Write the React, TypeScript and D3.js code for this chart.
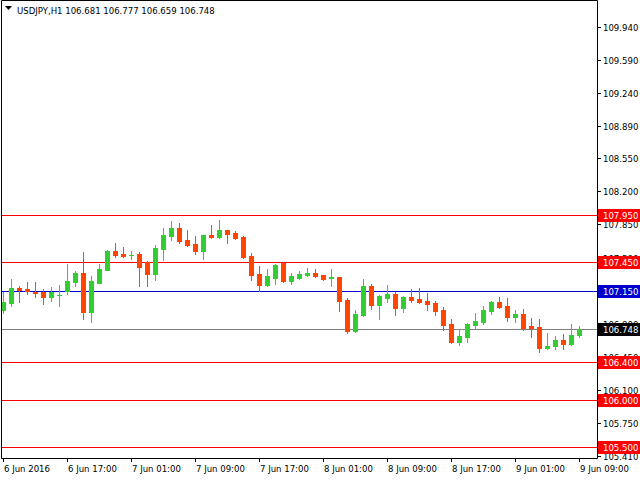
import React from 'react';
import * as d3 from 'd3';

// hourly USDJPY candles, 6 Jun 09:00 .. 9 Jun 09:00
const opens = [
  106.947, 107.024, 107.179, 107.168, 107.14, 107.14, 107.087, 107.1, 107.144, 107.246,
  107.338, 106.929, 107.235, 107.372, 107.57, 107.538, 107.528, 107.538, 107.454, 107.327,
  107.591, 107.728, 107.813, 107.686, 107.644, 107.57, 107.739, 107.718, 107.792, 107.76,
  107.718, 107.517, 107.327, 107.211, 107.285, 107.443, 107.253, 107.285, 107.317, 107.338,
  107.317, 107.285, 107.295, 107.052, 106.725, 106.894, 107.2, 106.999, 107.074, 107.116,
  106.968, 107.084, 107.063, 107.042, 107.021, 106.947, 106.799, 106.609, 106.662, 106.788,
  106.82, 106.936, 107.031, 106.989, 106.873, 106.905, 106.778, 106.767, 106.546, 106.567,
  106.63, 106.588, 106.681,
];
const highs = [
  107.137, 107.274, 107.2, 107.242, 107.242, 107.169, 107.19, 107.211, 107.433, 107.359,
  107.559, 107.306, 107.433, 107.581, 107.654, 107.612, 107.57, 107.559, 107.46, 107.633,
  107.813, 107.887, 107.866, 107.792, 107.728, 107.739, 107.844, 107.897, 107.792, 107.781,
  107.728, 107.549, 107.411, 107.38, 107.433, 107.454, 107.338, 107.359, 107.39, 107.38,
  107.32, 107.38, 107.295, 107.074, 106.947, 107.274, 107.221, 107.105, 107.211, 107.137,
  107.09, 107.169, 107.179, 107.126, 107.042, 106.978, 106.852, 106.746, 106.81, 106.915,
  106.989, 107.042, 107.084, 107.074, 106.947, 106.957, 106.862, 106.852, 106.704, 106.672,
  106.693, 106.799, 106.777,
];
const lows = [
  106.915, 106.992, 107.031, 107.116, 107.084, 107.013, 107.045, 106.992, 107.119, 107.2,
  106.855, 106.823, 107.23, 107.368, 107.507, 107.51, 107.486, 107.2, 107.2, 107.264,
  107.475, 107.686, 107.654, 107.623, 107.538, 107.486, 107.707, 107.707, 107.654, 107.697,
  107.496, 107.264, 107.147, 107.2, 107.221, 107.242, 107.221, 107.275, 107.31, 107.3,
  107.264, 107.2, 106.936, 106.704, 106.714, 106.88, 106.957, 106.852, 107.031, 106.894,
  106.926, 107.031, 107.021, 106.947, 106.894, 106.736, 106.598, 106.577, 106.609, 106.757,
  106.799, 106.905, 106.968, 106.83, 106.82, 106.736, 106.662, 106.503, 106.535, 106.535,
  106.535, 106.577, 106.659,
];
const closes = [
  107.031, 107.179, 107.158, 107.147, 107.129, 107.087, 107.14, 107.11, 107.253, 107.338,
  106.929, 107.253, 107.38, 107.57, 107.528, 107.52, 107.53, 107.401, 107.327, 107.602,
  107.739, 107.813, 107.675, 107.633, 107.57, 107.739, 107.718, 107.792, 107.749, 107.707,
  107.507, 107.316, 107.211, 107.306, 107.422, 107.253, 107.306, 107.327, 107.338, 107.306,
  107.274, 107.295, 107.042, 106.725, 106.905, 107.2, 106.999, 107.095, 107.116, 106.968,
  107.084, 107.052, 107.031, 107.01, 106.936, 106.788, 106.609, 106.672, 106.799, 106.83,
  106.947, 107.031, 106.978, 106.873, 106.905, 106.757, 106.757, 106.546, 106.567, 106.63,
  106.588, 106.683, 106.748,
];

const priceTicks = [
  '109.940', '109.590', '109.240', '108.890', '108.550', '108.200', '107.850',
  '107.500', '106.800', '106.450', '106.100', '105.750', '105.410',
];
const timeTickIdx = [0, 8, 16, 24, 32, 40, 48, 56, 64, 72];
const timeTickLabels = [
  '6 Jun 2016', '6 Jun 17:00', '7 Jun 01:00', '7 Jun 09:00', '7 Jun 17:00',
  '8 Jun 01:00', '8 Jun 09:00', '8 Jun 17:00', '9 Jun 01:00', '9 Jun 09:00',
];

// horizontal levels: value, colour of line, colour of tag
const levelValues = [107.95, 107.45, 107.15, 106.748, 106.4, 106.0, 105.5];
const levelLine = ['#ff0000', '#ff0000', '#0000cd', '#808080', '#ff0000', '#ff0000', '#ff0000'];
const levelTag = ['#ff0000', '#ff0000', '#0000cd', '#000000', '#ff0000', '#ff0000', '#ff0000'];

const W = 640;
const H = 480;
const plotRight = 597;
const plotBottom = 458;
const FONT = "'DejaVu Sans Condensed', 'DejaVu Sans', sans-serif";
const BULL = '#32cd32';
const BEAR = '#ff4500';

export default function App() {
  const y = d3.scaleLinear().domain([105.384, 110.22]).range([plotBottom, 0]);
  const x = d3.scaleLinear().domain([0, 72]).range([3, 579]);
  const py = (v: number) => Math.round(y(v)) + 0.5;

  const title = `USDJPY,H1  ${opens[72].toFixed(3)} ${highs[72].toFixed(3)} ${lows[72].toFixed(3)} ${closes[72].toFixed(3)}`;

  return (
    <svg
      width={W}
      height={H}
      style={{ position: 'absolute', left: 0, top: 0, background: '#fff' }}
      fontFamily={FONT}
    >
      {/* level lines */}
      {levelValues.map((v, i) => (
        <line key={'l' + i} x1={2} x2={plotRight} y1={py(v)} y2={py(v)} stroke={levelLine[i]} strokeWidth={1} />
      ))}

      {/* candles */}
      {opens.map((o, i) => {
        const c = closes[i];
        const cx = Math.round(x(i));
        const col = c >= o ? BULL : BEAR;
        const top = Math.round(y(Math.max(o, c)));
        const bot = Math.round(y(Math.min(o, c)));
        return (
          <g key={'c' + i}>
            <line x1={cx + 0.5} x2={cx + 0.5} y1={Math.round(y(highs[i]))} y2={Math.round(y(lows[i])) + 1} stroke={col} />
            <rect x={cx - 2} y={top} width={5} height={Math.max(1, bot - top + 1)} fill={col} />
          </g>
        );
      })}

      {/* frame */}
      <path d={`M1.5,${plotBottom + 0.5}V0.5H${plotRight + 0.5}V${plotBottom + 0.5}H1.5`} fill="none" stroke="#000" />

      {/* price axis */}
      {priceTicks.map((t) => {
        const ty = py(+t);
        return (
          <g key={'p' + t}>
            <line x1={plotRight} x2={plotRight + 4} y1={ty} y2={ty} stroke="#000" />
            <text x={603} y={ty + 3.5} fontSize={9.5} fill="#000">{t}</text>
          </g>
        );
      })}

      {/* level tags */}
      {levelValues.map((v, i) => (
        <g key={'t' + i}>
          <rect x={plotRight + 1} y={py(v) - 6.5} width={W - plotRight - 1} height={13} fill={levelTag[i]} />
          <text x={603} y={py(v) + 3.5} fontSize={9.5} fill="#fff">{v.toFixed(3)}</text>
        </g>
      ))}

      {/* time axis */}
      {timeTickIdx.map((idx, i) => {
        const tx = Math.round(x(idx)) + 0.5;
        return (
          <g key={'x' + i}>
            <line x1={tx} x2={tx} y1={plotBottom} y2={plotBottom + 4} stroke="#000" />
            <text x={tx + 0.5} y={plotBottom + 14} fontSize={9.5} fill="#000">{timeTickLabels[i]}</text>
          </g>
        );
      })}

      {/* title */}
      <path d="M5,6H12L8.5,10Z" fill="#000" />
      <text x={17} y={14} fontSize={9.5} fill="#000">{title}</text>
    </svg>
  );
}
